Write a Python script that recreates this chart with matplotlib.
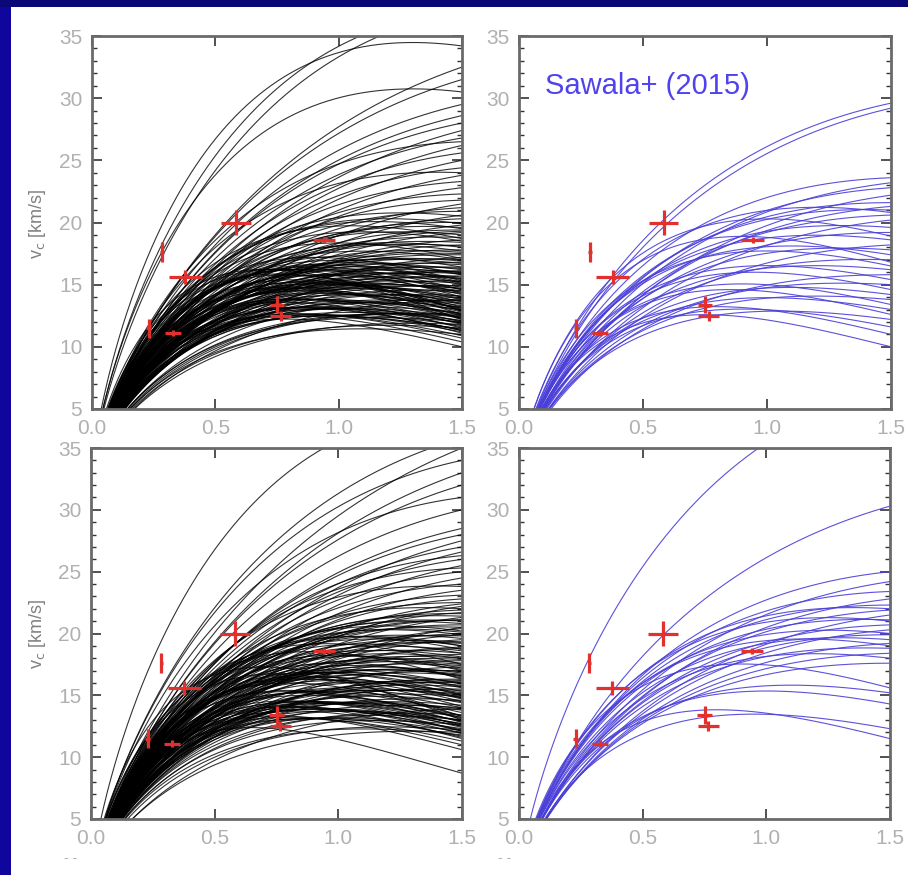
import numpy as np
import matplotlib
matplotlib.use("Agg")
import matplotlib.pyplot as plt
from matplotlib.patches import Rectangle
from matplotlib.ticker import MultipleLocator

plt.rcParams['font.family'] = ['Liberation Sans', 'DejaVu Sans']

# ---------------- data ----------------
# Each rotation curve: velocity at r = 1.5 kpc (edge_v) and radius of peak (peak_r)
tl_edge_v = [10.0, 10.4, 10.7, 10.9, 11.1, 11.2, 11.3, 11.4, 11.5, 11.6, 11.7, 11.8, 11.9, 12.0, 12.1,
             12.2, 12.3, 12.4, 12.5, 12.6, 12.6, 12.7, 12.8, 12.9, 13.0, 13.0, 13.1, 13.2, 13.3, 13.4,
             11.0, 11.5, 12.0, 12.2, 12.5, 12.9, 13.2, 13.5, 11.8, 12.4,
             13.6, 13.7, 13.8, 13.9, 14.0, 14.1, 14.2, 14.3, 14.4, 14.5, 14.6, 14.7, 14.8, 14.9, 15.0,
             15.1, 15.2, 15.3, 15.4, 15.5, 15.6, 15.7, 15.8, 15.9, 16.0, 16.1, 16.2, 16.4, 16.6, 16.8,
             17.0, 17.2, 17.4, 14.0, 14.6, 15.2, 15.8, 16.4, 17.0, 13.8,
             17.6, 17.8, 18.0, 18.2, 18.4, 18.6, 18.8, 19.0, 19.2, 19.4, 19.6, 19.8, 20.0, 20.3, 20.6,
             20.9, 21.2, 21.5, 21.8, 18.5, 19.5, 20.5,
             22.3, 22.8, 23.3, 23.8, 24.4, 25.0, 25.6, 26.2, 26.8, 27.4, 28.0, 28.6, 24.0, 26.5,
             29.5, 30.5, 31.5, 32.5, 34.2, 37.1, 37.0,
             11.3, 11.9, 12.3, 12.7, 13.1, 13.5, 13.9, 14.3, 14.7, 15.1, 15.5, 15.9, 16.3, 16.7, 17.1,
             17.5, 12.1, 12.9, 13.7, 14.5, 15.3, 16.1, 16.9, 17.7, 18.1, 18.7, 19.3, 19.9, 11.4, 12.6]
tl_peak_r = [0.78, 0.80, 0.82, 0.85, 0.78, 0.90, 0.84, 0.95, 0.80, 0.88, 1.00, 0.83, 0.92, 0.86, 0.98,
             0.80, 0.90, 1.05, 0.85, 0.95, 0.75, 1.00, 0.88, 0.92, 1.10, 0.82, 0.96, 0.86, 1.02, 0.90,
             1.10, 1.20, 1.15, 0.70, 1.25, 0.78, 1.15, 0.95, 1.30, 1.20,
             0.90, 1.10, 0.95, 1.20, 1.00, 1.30, 0.92, 1.15, 1.05, 1.35, 0.98, 1.20, 1.10, 1.40, 1.00,
             1.25, 1.15, 1.45, 1.05, 1.30, 1.20, 1.50, 1.10, 1.35, 1.25, 1.60, 1.15, 1.40, 1.30, 1.50,
             1.35, 1.70, 1.45, 0.85, 0.90, 0.95, 1.00, 1.05, 1.10, 1.60,
             1.30, 1.50, 1.20, 1.60, 1.35, 1.70, 1.40, 1.25, 1.80, 1.50, 1.35, 1.90, 1.45, 1.60, 2.00,
             1.50, 1.70, 2.10, 1.60, 1.10, 1.15, 1.25,
             1.60, 1.90, 1.70, 2.10, 1.80, 2.20, 1.90, 2.30, 2.00, 2.40, 2.10, 2.20, 1.40, 1.60,
             2.20, 1.30, 2.40, 2.60, 1.30, 1.69, 1.88,
             0.85, 0.95, 0.80, 1.10, 0.90, 1.20, 1.00, 0.88, 1.25, 0.95, 1.15, 1.05, 1.30, 1.20, 1.00,
             1.40, 1.05, 0.75, 1.35, 1.10, 0.90, 1.45, 1.25, 1.15, 1.30, 1.05, 1.60, 1.20, 0.95, 1.30]

bl_edge_v = [8.7, 10.6, 11.0, 11.3, 11.5, 11.7, 11.9, 12.0, 12.1, 12.2, 12.3, 12.4, 12.5, 12.6, 12.7,
             12.8, 12.9, 13.0, 13.1, 13.2, 13.3, 13.4, 11.8, 12.2, 12.6, 13.0, 13.4, 12.5, 12.0, 13.2,
             13.6, 13.8, 14.0, 14.2, 14.4, 14.6, 14.8, 15.0, 15.2, 15.4, 15.6, 15.8, 16.0, 16.2, 16.4,
             16.6, 16.8, 17.0, 17.2, 17.4, 17.6, 17.8, 14.1, 14.7, 15.3, 15.9, 16.5, 17.1, 13.9, 14.9,
             15.5, 16.1, 16.7, 17.3, 17.9, 14.5, 15.1, 15.7, 16.3, 17.5,
             18.0, 18.3, 18.6, 18.9, 19.2, 19.5, 19.8, 20.1, 20.4, 20.7, 21.0, 21.3, 21.6, 21.9, 22.2,
             22.5, 22.8, 18.4, 19.0, 19.6, 20.2, 20.8, 21.4, 22.0, 18.8, 19.9, 21.1, 22.4, 20.5, 19.3,
             23.1, 23.5, 24.0, 24.5, 25.0, 25.5, 26.0, 26.6, 27.0, 27.5, 28.0, 28.5, 23.8, 25.3, 26.3,
             30.0, 31.0, 32.0, 33.0, 34.0, 35.0, 38.2, 35.8,
             12.1, 12.7, 13.3, 13.9, 14.5, 15.1, 15.7, 16.3, 16.9, 17.5, 18.1, 18.7, 19.3, 19.9, 20.5,
             21.1, 13.0, 14.0, 15.0, 16.0, 17.0, 18.0, 19.0, 20.0, 11.6, 12.9, 14.8, 16.6, 18.4, 21.7]
bl_peak_r = [0.65, 0.75, 0.80, 0.85, 0.78, 0.90, 0.82, 0.95, 0.80, 0.88, 1.00, 0.84, 0.92, 0.86, 0.98,
             0.80, 0.90, 1.05, 0.85, 0.95, 0.75, 1.00, 1.10, 1.20, 1.15, 0.70, 1.25, 0.78, 1.30, 0.88,
             0.90, 1.10, 0.95, 1.20, 1.00, 1.30, 0.92, 1.15, 1.05, 1.35, 0.98, 1.20, 1.10, 1.40, 1.00,
             1.25, 1.15, 1.45, 1.05, 1.30, 1.20, 1.50, 0.85, 0.90, 0.95, 1.00, 1.05, 1.10, 1.60, 1.25,
             1.40, 1.50, 1.20, 1.60, 1.35, 1.15, 1.00, 1.30, 1.45, 1.25,
             1.30, 1.50, 1.20, 1.60, 1.35, 1.70, 1.40, 1.25, 1.80, 1.50, 1.35, 1.90, 1.45, 1.60, 2.00,
             1.50, 1.70, 1.10, 1.15, 1.25, 1.20, 1.30, 1.40, 1.35, 1.60, 1.75, 1.55, 1.85, 2.10, 1.45,
             1.60, 1.90, 1.70, 2.10, 1.80, 2.20, 1.90, 2.30, 2.00, 2.40, 2.10, 2.20, 1.40, 1.60, 1.75,
             2.20, 1.80, 2.40, 2.60, 2.00, 2.80, 1.60, 2.20,
             0.85, 0.95, 0.80, 1.10, 0.90, 1.20, 1.00, 0.88, 1.25, 0.95, 1.15, 1.05, 1.30, 1.20, 1.40,
             1.50, 1.15, 1.25, 0.90, 1.35, 1.00, 1.20, 1.10, 1.60, 0.82, 0.92, 1.05, 1.15, 1.25, 1.70]

tr_edge_v = [29.6, 29.2, 23.6, 23.2, 22.8, 22.2, 21.6, 21.3, 21.0, 20.6, 20.2, 19.6, 19.2, 18.6, 18.2,
             17.8, 17.4, 17.0, 16.5, 16.2, 15.8, 15.4, 15.0, 14.6, 14.2, 13.8, 13.4, 13.0, 12.6, 12.2,
             11.6, 11.0, 10.0, 20.8, 18.9, 16.8]
tr_peak_r = [2.10, 2.20, 1.60, 1.90, 1.70, 2.00, 1.50, 1.80, 1.40, 1.60, 1.90, 1.30, 1.50, 1.20, 1.70,
             1.30, 1.10, 1.40, 1.00, 1.20, 1.50, 1.00, 1.30, 0.95, 1.10, 1.20, 0.90, 1.00, 0.85, 1.05,
             0.90, 0.80, 0.75, 1.20, 1.00, 0.90]

br_edge_v = [39.8, 30.3, 25.0, 24.2, 23.4, 22.8, 22.3, 21.9, 21.5, 21.1, 20.7, 20.3, 19.9, 19.5, 19.2,
             18.8, 18.4, 18.0, 17.6, 15.6, 15.2, 14.3, 12.3, 11.5, 20.0, 22.0, 19.0, 21.0]
br_peak_r = [2.00, 2.40, 1.80, 2.00, 1.60, 1.90, 1.50, 1.70, 2.00, 1.40, 1.60, 1.80, 1.50, 1.30, 1.70,
             1.40, 1.60, 1.20, 1.50, 0.90, 1.10, 1.00, 0.95, 0.80, 1.25, 1.35, 1.15, 1.25]

# observed dwarf spheroidals (red crosses)
obs_r = [0.230, 0.327, 0.285, 0.378, 0.583, 0.750, 0.765, 0.942]
obs_v = [11.5, 11.1, 17.6, 15.6, 20.0, 13.4, 12.5, 18.6]
obs_rerr = [0.010, 0.032, 0.008, 0.066, 0.060, 0.030, 0.042, 0.045]
obs_verr = [0.75, 0.25, 0.80, 0.55, 1.00, 0.70, 0.40, 0.25]

x_ticks = [0.0, 0.5, 1.0, 1.5]
x_ticklabels = ['0.0', '0.5', '1.0', '1.5']
y_ticks = [5, 10, 15, 20, 25, 30, 35]
y_ticklabels = ['5', '10', '15', '20', '25', '30', '35']

# ---------------- figure ----------------
W, H = 908, 875
fig = plt.figure(figsize=(W / 100, H / 100), dpi=100)
fig.patch.set_facecolor('white')
fig.patches.append(Rectangle((0, 0), 11 / W, 1, transform=fig.transFigure,
                             facecolor='#10069e', edgecolor='none', zorder=-5))
fig.patches.append(Rectangle((0, 1 - 7 / H), 1, 7 / H, transform=fig.transFigure,
                             facecolor='#0b0878', edgecolor='none', zorder=-5))

r = np.linspace(0.001, 1.5, 300)
A = 0.75


def shape(s):
    return np.exp(A * (np.log(s) + 1.0 - s))


def rot_curve(vedge, rpk):
    vmax = vedge / shape(1.5 / rpk)
    return vmax * shape(r / rpk)


def px_rect(x0, y0, x1, y1):
    return [x0 / W, 1 - y1 / H, (x1 - x0) / W, (y1 - y0) / H]


panels = [
    (px_rect(92, 36, 462, 409), tl_edge_v, tl_peak_r, '#000000', 0.8, 0.8),
    (px_rect(519, 36, 891, 409), tr_edge_v, tr_peak_r, '#4a3ed8', 0.8, 0.9),
    (px_rect(91, 448, 462, 819), bl_edge_v, bl_peak_r, '#000000', 0.8, 0.8),
    (px_rect(519, 448, 890, 819), br_edge_v, br_peak_r, '#4a3ed8', 0.8, 0.9),
]

for rect, ev, pr, col, lw, al in panels:
    ax = fig.add_axes(rect)
    for e, p in zip(ev, pr):
        ax.plot(r, rot_curve(e, p), color=col, lw=lw, alpha=al, zorder=2)
    ax.errorbar(obs_r, obs_v, xerr=obs_rerr, yerr=obs_verr, fmt='none',
                ecolor='#e2302c', elinewidth=2.3, capsize=0, zorder=5)
    ax.set_xlim(0, 1.5)
    ax.set_ylim(5, 35)
    ax.set_xticks(x_ticks)
    ax.set_xticklabels(x_ticklabels)
    ax.set_yticks(y_ticks)
    ax.set_yticklabels(y_ticklabels)
    ax.yaxis.set_minor_locator(MultipleLocator(1))
    ax.tick_params(which='both', direction='in', top=True, right=True,
                   color='#333333', labelcolor='#b0b0b0', labelsize=15)
    ax.tick_params(which='major', length=7, width=1.2, pad=7)
    ax.tick_params(which='minor', length=3.5, width=1.0)
    for sp in ax.spines.values():
        sp.set_color('#6a6a6a')
        sp.set_linewidth(2.0)

# y-axis labels on left panels
fig.text(37 / W, 1 - 224 / H, r'v$_{\rm c}$ [km/s]', rotation=90, ha='center', va='center',
         color='#808080', fontsize=13)
fig.text(37 / W, 1 - 634 / H, r'v$_{\rm c}$ [km/s]', rotation=90, ha='center', va='center',
         color='#808080', fontsize=13)

# cut-off x-label fragments
fig.text(71 / W, 1 - 858 / H, '- -', ha='center', va='center', color='#b0b0b0', fontsize=10)
fig.text(505 / W, 1 - 858 / H, '- -', ha='center', va='center', color='#b0b0b0', fontsize=10)

fig.text(545 / W, 1 - 86 / H, 'Sawala+ (2015)', ha='left', va='center',
         color='#4f43ee', fontsize=21)

fig.savefig('out.png', dpi=100, facecolor='white')
